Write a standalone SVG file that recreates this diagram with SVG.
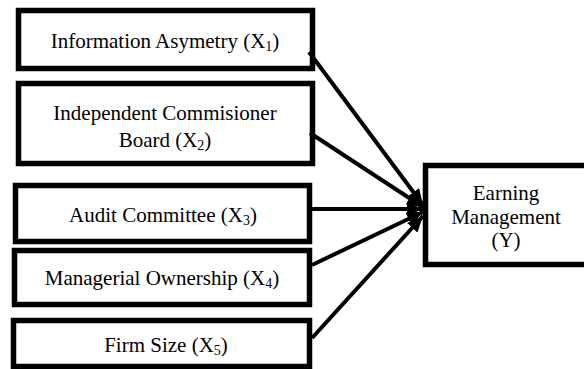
<svg xmlns="http://www.w3.org/2000/svg" width="584" height="369" viewBox="0 0 584 369">
<style>
.box{fill:#fff;stroke:#000;stroke-width:5.5}
.t{font-family:"Liberation Serif","Times New Roman",serif;font-size:21px;fill:#000;text-anchor:middle}
.c{stroke:#000;stroke-width:4;fill:none;marker-end:url(#ah)}
</style>
<defs>
<marker id="ah" markerUnits="userSpaceOnUse" markerWidth="16" markerHeight="14" refX="16" refY="7" orient="auto">
<path d="M0,0 L16,7 L0,14 z" fill="#000"/>
</marker>
</defs>
<rect width="584" height="369" fill="#fff"/>
<g id="x1">
<rect class="box" x="18.5" y="10.5" width="294" height="58"/>
<text class="t" x="165" y="48">Information Asymetry (X<tspan font-size="14" dy="3">1</tspan><tspan dy="-3">)</tspan></text>
</g>
<g id="x2">
<rect class="box" x="18.5" y="83.5" width="294" height="80"/>
<text class="t" x="165" y="120">Independent Commisioner</text>
<text class="t" x="165" y="147">Board (X<tspan font-size="14" dy="3">2</tspan><tspan dy="-3">)</tspan></text>
</g>
<g id="x3">
<rect class="box" x="15.5" y="185.5" width="294" height="56"/>
<text class="t" x="163" y="222">Audit Committee (X<tspan font-size="14" dy="3">3</tspan><tspan dy="-3">)</tspan></text>
</g>
<g id="x4">
<rect class="box" x="14.5" y="250.5" width="295" height="54"/>
<text class="t" x="162" y="285">Managerial Ownership (X<tspan font-size="14" dy="3">4</tspan><tspan dy="-3">)</tspan></text>
</g>
<g id="x5">
<rect class="box" x="13.5" y="320.5" width="296" height="46"/>
<text class="t" x="166" y="352">Firm Size (X<tspan font-size="14" dy="3">5</tspan><tspan dy="-3">)</tspan></text>
</g>
<g id="y">
<rect class="box" x="425.5" y="165.5" width="170" height="99"/>
<text class="t" x="506" y="200">Earning</text>
<text class="t" x="506" y="224">Management</text>
<text class="t" x="506" y="247">(Y)</text>
</g>
<g id="connectors">
<line class="c" x1="309" y1="52" x2="423" y2="205"/>
<line class="c" x1="310" y1="133" x2="423" y2="207"/>
<line class="c" x1="312" y1="209" x2="423" y2="209"/>
<line class="c" x1="312" y1="265" x2="423" y2="212"/>
<line class="c" x1="312" y1="338" x2="423" y2="216"/>
</g>
</svg>
